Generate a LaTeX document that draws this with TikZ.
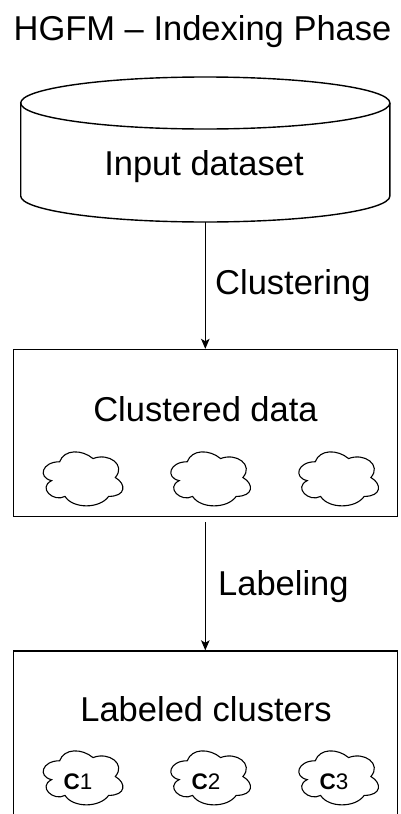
\documentclass[tikz,border=0pt]{standalone}
\usepackage{fontspec}
\setmainfont{Liberation Sans}
\usetikzlibrary{arrows.meta}
\tikzset{
  frame/.style={draw, line width=1.4pt, inner sep=0pt},
  flow/.style={draw, line width=1pt, -{Stealth[length=10pt,width=8.5pt,inset=2.5pt]}},
  bigtext/.style={font=\fontsize{34.5}{40}\selectfont, inner sep=0pt, anchor=base},
  edgetext/.style={bigtext, anchor=base west},
  tagtext/.style={font=\fontsize{22.5}{26}\selectfont, inner sep=0pt, anchor=base},
  puff/.pic={
    \draw[line width=1.1pt, x=89pt, y=-63pt]
      (0.25,0.25) .. controls (0.05,0.25) and (0,0.5) .. (0.16,0.55)
      .. controls (0,0.66) and (0.18,0.9) .. (0.31,0.8)
      .. controls (0.4,1) and (0.7,1) .. (0.8,0.8)
      .. controls (1,0.8) and (1,0.6) .. (0.875,0.5)
      .. controls (1,0.3) and (0.8,0.1) .. (0.625,0.2)
      .. controls (0.5,0.05) and (0.3,0.05) .. (0.25,0.25) -- cycle;
  }
}
\begin{document}
\begin{tikzpicture}[x=1pt, y=-1pt]
  \clip (0,0) rectangle (401,814);

  % title
  \node[bigtext] (title) at (202.5,40) {HGFM – Indexing Phase};

  % input store drawn as a cylinder
  \node[inner sep=0pt, minimum width=369pt, minimum height=145pt] (store) at (205.3,149.5) {};
  \draw[line width=1.4pt] (20.7,103) -- (20.7,196)
    arc[start angle=180, end angle=360, x radius=184.6pt, y radius=26pt] -- (389.9,103);
  \draw[line width=1.4pt] (205.3,103) ellipse[x radius=184.6pt, y radius=26pt];
  \node[bigtext] (storetext) at (204,175) {Input dataset};

  % clustered data
  \node[frame, minimum width=384pt, minimum height=167pt] (clus) at (205.3,433) {};
  \node[bigtext] (clustext) at (205.5,421.7) {Clustered data};
  \pic at (37.4,446) {puff};
  \pic at (165,446) {puff};
  \pic at (293,446) {puff};

  % labeled clusters
  \node[frame, minimum width=384pt, minimum height=189pt] (lab) at (205.3,745.5) {};
  \node[bigtext] (labtext) at (206,721.5) {Labeled clusters};
  \pic at (37.4,745) {puff};
  \pic at (165,745) {puff};
  \pic at (293,745) {puff};
  \node[tagtext] (c1) at (78,789) {{\bfseries C}1};
  \node[tagtext] (c2) at (206,789) {{\bfseries C}2};
  \node[tagtext] (c3) at (334,789) {{\bfseries C}3};

  % steps between stages
  \draw[flow] (store.south) -- (clus.north);
  \node[edgetext] (step1) at (215,294) {Clustering};
  \draw[flow, shorten <=5pt] (clus.south) -- (lab.north);
  \node[edgetext] (step2) at (218,595) {Labeling};
\end{tikzpicture}
\end{document}
